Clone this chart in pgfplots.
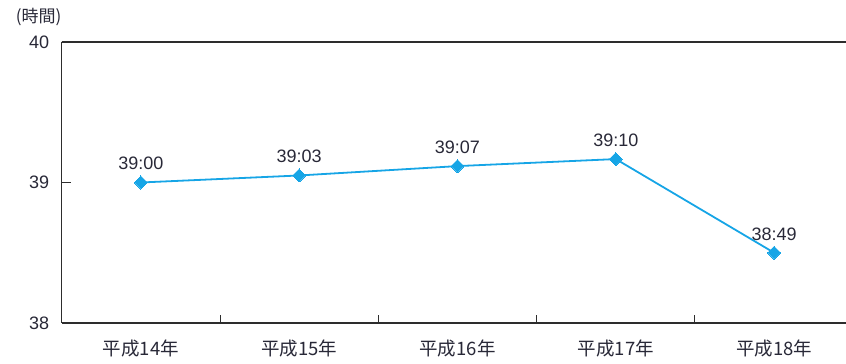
\documentclass[border=0pt]{standalone}
\usepackage{fontspec}
\setmainfont{Liberation Sans}
\newfontfamily\jp{Noto Sans CJK JP}
\usepackage{pgfplots}
\pgfplotsset{compat=1.18}
\definecolor{linec}{RGB}{22,165,230}
\definecolor{axc}{RGB}{45,45,45}
\definecolor{txt}{RGB}{40,40,55}
\begin{document}
\begin{tikzpicture}
\useasboundingbox (-61.7pt,-41pt) rectangle (784.3pt,323pt);
\begin{axis}[
  scale only axis, width=784.3pt, height=281pt,
  xmin=-0.5, xmax=4.454, ymin=38, ymax=40,
  axis lines*=left,
  clip=false,
  tick align=inside,
  axis line style={axc, line width=1.3pt},
  xtick={0,1,2,3,4},
  xticklabels={平成14年,平成15年,平成16年,平成17年,平成18年},
  major x tick style={draw=none},
  minor xtick={0.5,1.5,2.5,3.5},
  minor tick length=8pt,
  minor x tick style={axc, line width=1pt},
  ytick={38,39,40},
  major tick length=9pt,
  major y tick style={axc, line width=1pt},
  /pgf/number format/assume math mode=true,
  xticklabel style={font=\jp\fontsize{18.5}{21}\selectfont, text=txt, yshift=-13pt},
  yticklabel style={font=\fontsize{18}{21}\selectfont, text=txt, xshift=-9pt},
  nodes near coords,
  point meta=explicit symbolic,
  every node near coord/.append style={font=\fontsize{18}{21}\selectfont, text=txt, yshift=9pt},
]
\draw[axc, line width=1.3pt] (rel axis cs:0,1) -- (rel axis cs:1,1);
\addplot[color=linec, line width=1.8pt, mark=square*, mark size=4.6pt, mark options={fill=linec, draw=linec, line width=0pt, rotate=45}]
  table[meta=lab] {
x y lab
0 39.0 39:00
1 39.05 39:03
2 39.1167 39:07
3 39.1667 39:10
4 38.5 38:49
};
\end{axis}
\node[font=\jp\fontsize{17}{20}\selectfont, text=txt] at (-23pt,306pt) {(時間)};
\end{tikzpicture}
\end{document}
